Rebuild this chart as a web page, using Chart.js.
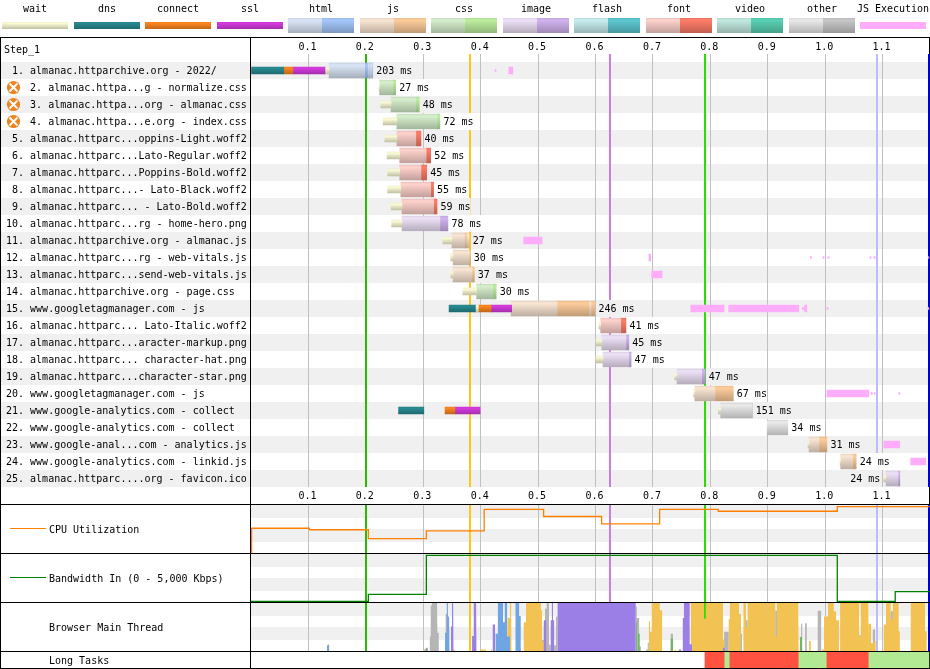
<!DOCTYPE html>
<html>
<head>
<meta charset="utf-8">
<title>Waterfall</title>
<script src="https://cdn.jsdelivr.net/npm/chart.js@4"></script>
<style>
  body { margin: 0; background: #fff; width: 930px; height: 669px; position: relative; overflow: hidden; font: 10px "DejaVu Sans Mono", monospace; color: #000; }
  canvas { position: absolute; }
  .txt { position: absolute; white-space: pre; line-height: 12px; }
  .legend-txt { position: absolute; top: 3px; width: 90px; text-align: center; line-height: 12px; }
  .swatch { position: absolute; }
  .line { position: absolute; background: #000; }
</style>
</head>
<body>
<div class="line" style="left:929px;top:37px;width:1px;height:632px"></div>

<canvas id="waterfall" width="930" height="466" style="left:0;top:38px"></canvas>
<canvas id="cpu" width="679" height="48" style="left:251px;top:505px"></canvas>
<canvas id="bandwidth" width="679" height="48" style="left:251px;top:554px"></canvas>
<canvas id="mainThread" width="679" height="48" style="left:251px;top:603px"></canvas>
<canvas id="longTasks" width="679" height="16" style="left:251px;top:652px"></canvas>

<div class="line" style="left:0;top:37px;width:930px;height:1px"></div>
<div class="line" style="left:0;top:37px;width:1px;height:632px"></div>
<div class="line" style="left:250px;top:37px;width:1px;height:632px"></div>
<div class="line" style="left:0;top:504px;width:930px;height:1px"></div>
<div class="line" style="left:0;top:553px;width:930px;height:1px"></div>
<div class="line" style="left:0;top:602px;width:930px;height:1px"></div>
<div class="line" style="left:0;top:651px;width:930px;height:1px"></div>
<div class="line" style="left:0;top:668px;width:930px;height:1px"></div>

<div class="txt" style="left:4px;top:44px">Step_1</div>
<div class="line" style="left:10px;top:528px;width:36px;height:1px;background:#ff8000"></div>
<div class="txt" style="left:49px;top:524px">CPU Utilization</div>
<div class="line" style="left:10px;top:577px;width:36px;height:1px;background:#008000"></div>
<div class="txt" style="left:49px;top:573px">Bandwidth In (0 - 5,000 Kbps)</div>
<div class="txt" style="left:49px;top:622px">Browser Main Thread</div>
<div class="txt" style="left:49px;top:655px">Long Tasks</div>

<script>
const categories = [
  '1. almanac.httparchive.org - 2022/',
  '2. almanac.httpa...g - normalize.css',
  '3. almanac.httpa...org - almanac.css',
  '4. almanac.httpa...e.org - index.css',
  '5. almanac.httparc...oppins-Light.woff2',
  '6. almanac.httparc...Lato-Regular.woff2',
  '7. almanac.httparc...Poppins-Bold.woff2',
  '8. almanac.httparc...- Lato-Black.woff2',
  '9. almanac.httparc... - Lato-Bold.woff2',
  '10. almanac.httparc...rg - home-hero.png',
  '11. almanac.httparchive.org - almanac.js',
  '12. almanac.httparc...rg - web-vitals.js',
  '13. almanac.httparc...send-web-vitals.js',
  '14. almanac.httparchive.org - page.css',
  '15. www.googletagmanager.com - js',
  '16. almanac.httparc... Lato-Italic.woff2',
  '17. almanac.httparc...aracter-markup.png',
  '18. almanac.httparc... character-hat.png',
  '19. almanac.httparc...character-star.png',
  '20. www.googletagmanager.com - js',
  '21. www.google-analytics.com - collect',
  '22. www.google-analytics.com - collect',
  '23. www.google-anal...com - analytics.js',
  '24. www.google-analytics.com - linkid.js',
  '25. almanac.httparc....org - favicon.ico'
];
const rowTypes = ['html','css','css','css','font','font','font','font','font','image','js','js','js','css','js','font','image','image','image','js','other','other','js','js','image'];
const durationsMs = [203,27,48,72,40,52,45,55,59,78,27,30,37,30,246,41,45,47,47,67,151,34,31,24,24];
const warningRows = [2,3,4];

// [row, start, end] in seconds
const waitSpans = [[1,.130,.136],[2,.223,.224],[3,.226,.244],[4,.230,.254],[5,.233,.254],[6,.237,.259],[7,.238,.259],[8,.238,.261],[9,.244,.263],[10,.245,.263],[11,.334,.350],[12,.348,.352],[13,.348,.352],[14,.369,.393],[15,.392,.396],[16,.606,.609],[17,.601,.611],[18,.601,.613],[19,.738,.742],[20,.771,.773],[21,.814,.818],[23,.970,.972],[24,1.026,1.027],[25,1.102,1.106]];
const dnsSpans = [[1,0,.057],[15,.345,.392],[21,.257,.301]];
const connectSpans = [[1,.057,.073],[15,.396,.418],[21,.338,.355]];
const sslSpans = [[1,.073,.130],[15,.418,.454],[21,.355,.399]];
const ttfbSpans = [[1,.136,.198],[1,.204,.206],[1,.208,.211],[2,.224,.247],[3,.244,.287],[4,.254,.324],[5,.254,.287],[6,.259,.305],[7,.259,.296],[8,.261,.313],[9,.263,.318],[10,.263,.329],[11,.350,.372],[11,.376,.380],[12,.352,.380],[13,.352,.385],[14,.393,.421],[15,.453,.533],[15,.590,.592],[16,.609,.644],[17,.611,.653],[18,.613,.658],[19,.742,.785],[20,.773,.808],[21,.818,.872],[22,.899,.935],[23,.972,.989],[24,1.027,1.048],[25,1.106,1.127]];
const downloadSpans = [[1,.198,.204],[1,.206,.208],[1,.211,.212],[2,.247,.252],[3,.287,.293],[4,.324,.329],[5,.287,.296],[6,.305,.313],[7,.296,.306],[8,.313,.318],[9,.318,.324],[10,.329,.343],[11,.372,.376],[12,.380,.382],[13,.385,.389],[14,.421,.427],[15,.533,.590],[15,.592,.599],[16,.644,.653],[17,.653,.658],[18,.658,.662],[19,.785,.791],[20,.808,.840],[21,.872,.873],[23,.989,1.003],[24,1.048,1.054],[25,1.127,1.130]];
const jsExecSpans = [[1,.449,.456],[11,.475,.507],[12,.693,.696],[13,.698,.716],[15,.766,.824],[15,.832,.954],[15,.964,.968],[20,1.003,1.076],[23,1.102,1.130],[24,1.149,1.175]];
const jsExecBlips = [[1,.425,.427],[12,.974,.976],[12,.996,.998],[12,1.005,1.007],[12,1.078,1.080],[12,1.085,1.087],[12,1.180,1.181],[15,.960,.964],[15,1.003,1.005],[15,1.179,1.181],[20,1.080,1.082],[20,1.085,1.087],[20,1.128,1.130]];

const eventTimes = [.200,.3812,.6251,.7906,1.0902,1.181];
const eventColors = ['#28bc00','#ffc61a','#c97ee0','#28e000','#bcbcff','#0000d0'];

const cpuTimes = [.001,.1016,.2044,.3054,.4061,.5096,.6106,.7117,.8138,1.0211,1.1817];
const cpuLoad = [0,51.6,48.4,30,46,91,76,60.6,91,87,96.5];
const bandwidthTimes = [0,.2044,.3054,1.0211,1.122,1.1817];
const bandwidthKbps = [75,75,785,4865,75,1090];

// [start, end, percent] per thread activity
const otherWork = [[.311,.313,30],[.313,.315,95],[.315,.324,100],[.324,.325,95],[.325,.327,38],[.339,.343,77],[.507,.510,23],[.510,.512,60],[.512,.515,88],[.515,.519,100],[.519,.522,13],[.528,.531,12],[.531,.534,72],[.670,.672,92],[.672,.676,69],[.676,.679,10],[.688,.691,3],[.691,.693,17],[.731,.735,36],[.789,.792,67],[.824,.832,40],[.850,.853,77],[.853,.855,36],[.862,.865,64],[.899,.900,100],[.913,.916,84],[.958,.960,57],[.965,.968,58],[.987,.993,84],[1.059,1.062,33],[1.083,1.087,45],[1.114,1.118,83]];
const scripting = [[.134,.136,14],[.301,.304,3],[.304,.308,7],[.353,.355,3],[.400,.409,3],[.413,.414,3],[.418,.420,3],[.425,.426,55],[.446,.447,85],[.447,.449,70],[.449,.451,69],[.451,.453,100],[.453,.454,62],[.468,.470,5],[.475,.479,60],[.479,.505,100],[.505,.507,85],[.507,.510,20],[.693,.695,62],[.695,.698,40],[.698,.712,100],[.712,.716,85],[.738,.740,3],[.766,.789,100],[.789,.792,67],[.792,.822,100],[.822,.824,24],[.832,.834,66],[.834,.850,100],[.850,.853,77],[.857,.858,63],[.858,.862,100],[.862,.865,50],[.865,.899,100],[.899,.900,64],[.900,.913,100],[.913,.916,30],[.916,.953,100],[.953,.954,47],[.960,.961,26],[.967,.968,16],[.972,.975,21],[.994,.998,3],[.998,1.005,72],[1.005,1.015,100],[1.015,1.019,83],[1.019,1.024,64],[1.026,1.059,100],[1.059,1.062,30],[1.062,1.075,100],[1.076,1.080,57],[1.080,1.085,16],[1.085,1.088,21],[1.102,1.106,55],[1.106,1.114,100],[1.114,1.118,66],[1.118,1.128,100],[1.128,1.130,41],[1.149,1.174,100],[1.174,1.177,41]];
const layout = [[.348,.350,51],[.350,.352,100],[.352,.353,51],[.385,.388,31],[.388,.392,100],[.392,.393,33],[.421,.425,55],[.510,.514,64],[.522,.524,64],[.524,.526,100],[.526,.528,64],[.534,.670,100],[.745,.749,3],[.752,.754,69],[.754,.764,100],[.764,.768,14],[.822,.825,7],[.956,.960,12]];
const parsing = [[.132,.136,12],[.304,.308,5],[.338,.341,38],[.341,.343,100],[.343,.345,72],[.345,.346,16],[.426,.430,36],[.430,.439,100],[.439,.442,60],[.442,.446,100],[.446,.451,30],[.460,.461,76],[.461,.467,100],[.467,.470,73]];
const painting = [[.670,.672,60],[.674,.677,36],[.731,.735,26],[.824,.825,14],[.956,.960,29]];

const longTaskBlocking = [[.7906,.824],[.834,.953],[1.003,1.075]];
const longTaskFree = [[.824,.834],[.953,1.003],[1.075,1.181]];

const legendNames = ['wait','dns','connect','ssl','html','js','css','image','flash','font','video','other','JS Execution'];

const xMax = 1.1817;
const bandColor = '#f0f0f0';
const gridColor = '#c0c0c0';

// top of the bar colour, bottom gets darkened
const phaseColors = { wait:[254,254,216], dns:[40,140,146], connect:[255,135,30], ssl:[215,60,225], 'JS Execution':[255,172,250] };
const typeColors = {
  html:  {light:[218,230,248], dark:[165,200,252]},
  js:    {light:[250,230,212], dark:[254,205,155]},
  css:   {light:[215,240,205], dark:[190,240,160]},
  image: {light:[238,226,248], dark:[210,180,240]},
  flash: {light:[200,238,240], dark:[95,200,210]},
  font:  {light:[255,210,205], dark:[255,125,105]},
  video: {light:[195,235,225], dark:[90,210,180]},
  other: {light:[235,235,235], dark:[200,200,200]}
};

function rgb(c, f) {
  return 'rgb(' + c.map(v => Math.round(v * f)).join(',') + ')';
}

function barGradient(chart, row, c, h) {
  const yScale = chart.scales.y;
  if (!chart.chartArea || !yScale) return rgb(c, 1);
  const mid = yScale.getPixelForValue(row);
  const g = chart.ctx.createLinearGradient(0, mid - h / 2, 0, mid + h / 2);
  g.addColorStop(0, rgb(c, .92));
  g.addColorStop(.14, rgb(c, 1));
  g.addColorStop(1, rgb(c, .76));
  return g;
}

function toBars(spans) {
  return spans.map(s => ({ x: [s[1], s[2]], y: categories[s[0] - 1] }));
}

function thinSet(label, spans, c) {
  return {
    label, data: toBars(spans), barThickness: 7,
    backgroundColor: ctx => ctx.raw ? barGradient(ctx.chart, categories.indexOf(ctx.raw.y), c, 7) : rgb(c, 1)
  };
}

function thickSet(label, spans, shade) {
  return {
    label, data: toBars(spans), barThickness: 15,
    backgroundColor: ctx => {
      if (!ctx.raw) return '#ccc';
      const row = categories.indexOf(ctx.raw.y);
      return barGradient(ctx.chart, row, typeColors[rowTypes[row]][shade], 15);
    }
  };
}

// legend up top
legendNames.forEach((name, i) => {
  const left = Math.round(2 + i * 71.5);
  const c = typeColors[name];
  const thin = phaseColors[name];
  const sw = document.createElement('div');
  sw.className = 'swatch';
  sw.style.cssText = 'left:' + left + 'px;width:66px;top:' + (thin ? 22 : 18) + 'px;height:' + (thin ? 7 : 15) + 'px;';
  const grad = col => 'linear-gradient(' + rgb(col, .92) + ',' + rgb(col, 1) + ' 14%,' + rgb(col, .76) + ')';
  if (name === 'JS Execution') sw.style.background = rgb(thin, 1);
  else if (thin) sw.style.background = grad(thin);
  else sw.style.background = grad(c.dark) + ' 34px 0/32px 100% no-repeat,' + grad(c.light) + ' 0 0/34px 100% no-repeat';
  document.body.appendChild(sw);
  const t = document.createElement('div');
  t.className = 'legend-txt';
  t.style.left = (left + 33 - 45) + 'px';
  t.textContent = name;
  document.body.appendChild(t);
});

const eventLines = extra => ({
  id: 'eventLines',
  beforeDatasetsDraw(chart) {
    const { ctx, chartArea: a, scales: { x } } = chart;
    eventTimes.forEach((t, i) => {
      ctx.fillStyle = eventColors[i];
      ctx.fillRect(Math.round(x.getPixelForValue(t)) - 1, a.top - extra, 2, a.bottom - a.top + extra);
    });
  }
});

const rowBands = {
  id: 'rowBands',
  beforeDraw(chart) {
    const { ctx, chartArea: a, scales: { y } } = chart;
    ctx.fillStyle = bandColor;
    categories.forEach((c, i) => {
      if (i % 2 == 0) {
        const mid = y.getPixelForValue(i);
        ctx.fillRect(1, mid - 8.5, a.right, 17);
      }
    });
  }
};

const panelBands = {
  id: 'panelBands',
  beforeDraw(chart) {
    const { ctx, chartArea: a } = chart;
    const q = (a.bottom - a.top) / 4;
    ctx.fillStyle = bandColor;
    ctx.fillRect(a.left, a.top, a.right - a.left, q + 1);
    ctx.fillRect(a.left, a.top + 2 * q, a.right - a.left, q + 1);
  }
};

// duration text next to each request, and the warning marks
const rowNotes = {
  id: 'rowNotes',
  afterDatasetsDraw(chart) {
    const { ctx, chartArea: a, scales: { x, y } } = chart;
    ctx.save();
    ctx.font = '10px "DejaVu Sans Mono"';
    ctx.textBaseline = 'middle';
    ctx.textAlign = 'left';
    durationsMs.forEach((ms, i) => {
      const row = i + 1;
      const ends = ttfbSpans.concat(downloadSpans).filter(s => s[0] == row).map(s => s[2]);
      const mid = y.getPixelForValue(i);
      const text = ms + ' ms';
      const w = ctx.measureText(text).width;
      let tx = x.getPixelForValue(Math.max(...ends)) + 3.5;
      if (tx + w > a.right) {
        const wait = waitSpans.find(s => s[0] == row);
        tx = x.getPixelForValue(wait[1]) - 3.5 - w;
      }
      ctx.fillStyle = i % 2 == 0 ? bandColor : '#fff';
      ctx.fillRect(tx, mid - 8.5, w, 17);
      ctx.fillStyle = '#000';
      ctx.fillText(text, tx, mid + .5);
    });
    warningRows.forEach(row => {
      const mid = y.getPixelForValue(row - 1);
      ctx.fillStyle = '#f0821e';
      ctx.beginPath();
      ctx.arc(13.5, mid, 6.6, 0, Math.PI * 2);
      ctx.fill();
      ctx.strokeStyle = '#fff';
      ctx.lineWidth = 2;
      ctx.beginPath();
      ctx.moveTo(9.5, mid - 4);
      ctx.lineTo(17.5, mid + 4);
      ctx.moveTo(17.5, mid - 4);
      ctx.lineTo(9.5, mid + 4);
      ctx.stroke();
    });
    ctx.restore();
  }
};

const monoFont = { family: '"DejaVu Sans Mono"', size: 10 };
const tickLabel = v => (v == 0 ? '' : v.toFixed(1));
const hideZero = c => (c.tick && c.tick.value == 0 ? 'rgba(0,0,0,0)' : gridColor);

// rows 2-4 make room for the warning mark, one digit numbers line up with two digit ones
function rowIndent(i) {
  if (warningRows.includes(i + 1)) return '    ';
  return i < 9 ? ' ' : '';
}

new Chart(document.getElementById('waterfall'), {
  type: 'bar',
  data: {
    labels: categories,
    datasets: [
      thinSet('wait', waitSpans, phaseColors.wait),
      thinSet('dns', dnsSpans, phaseColors.dns),
      thinSet('connect', connectSpans, phaseColors.connect),
      thinSet('ssl', sslSpans, phaseColors.ssl),
      thickSet('ttfb', ttfbSpans, 'light'),
      thickSet('download', downloadSpans, 'dark'),
      { label: 'JS Execution', data: toBars(jsExecSpans), barThickness: 7, backgroundColor: rgb(phaseColors['JS Execution'], 1) },
      { label: 'JS Execution', data: toBars(jsExecBlips), barThickness: 2, backgroundColor: rgb(phaseColors['JS Execution'], 1) }
    ]
  },
  options: {
    indexAxis: 'y',
    responsive: false,
    animation: false,
    grouped: false,
    layout: { padding: { left: 6, right: .5, top: 0, bottom: 0 } },
    plugins: { legend: { display: false }, tooltip: { enabled: false } },
    scales: {
      x: {
        type: 'linear', position: 'top', min: 0, max: xMax,
        border: { display: false },
        grid: { color: hideZero, tickColor: hideZero, tickLength: 8 },
        ticks: { stepSize: .1, includeBounds: false, autoSkip: false, maxRotation: 0, padding: 1, labelOffset: -1, color: '#000', font: monoFont, callback: tickLabel },
        afterFit(s) { s.height = 24; }
      },
      x2: {
        type: 'linear', axis: 'x', position: 'bottom', min: 0, max: xMax,
        border: { display: false },
        grid: { display: false, drawTicks: false },
        ticks: { stepSize: .1, includeBounds: false, autoSkip: false, maxRotation: 0, padding: 3, labelOffset: -1, color: '#000', font: monoFont, callback: tickLabel },
        afterFit(s) { s.height = 17; }
      },
      y: {
        type: 'category', offset: true,
        border: { display: false },
        grid: { display: false },
        ticks: {
          autoSkip: false, crossAlign: 'far', labelOffset: .5, color: '#000', font: monoFont,
          callback(v, i) { return rowIndent(i) + categories[i]; }
        },
        afterFit(s) { s.width = 245; }
      }
    }
  },
  plugins: [rowBands, eventLines(8), rowNotes]
});

function panelOptions(yMax, showGrid) {
  return {
    responsive: false,
    animation: false,
    layout: { padding: { left: 0, right: .5, top: 0, bottom: 0 } },
    plugins: { legend: { display: false }, tooltip: { enabled: false } },
    elements: { point: { radius: 0 } },
    scales: {
      x: {
        type: 'linear', min: 0, max: xMax,
        border: { display: false },
        grid: { display: showGrid, color: hideZero, drawTicks: false },
        ticks: { display: false, stepSize: .1, includeBounds: false, autoSkip: false }
      },
      y: { display: false, min: 0, max: yMax }
    }
  };
}

function zipPoints(xs, ys) {
  return xs.map((t, i) => ({ x: t, y: ys[i] }));
}

new Chart(document.getElementById('cpu'), {
  type: 'line',
  data: { datasets: [{ data: zipPoints(cpuTimes, cpuLoad), stepped: 'after', clip: false, borderColor: '#ff8000', borderWidth: 1.3 }] },
  options: panelOptions(100, true),
  plugins: [panelBands, eventLines(0)]
});

new Chart(document.getElementById('bandwidth'), {
  type: 'line',
  data: { datasets: [{ data: zipPoints(bandwidthTimes, bandwidthKbps), stepped: 'after', clip: false, borderColor: '#008000', borderWidth: 1.3 }] },
  options: panelOptions(5000, true),
  plugins: [panelBands, eventLines(0)]
});

// adjacent spans share an edge, only go down to the floor when there is a real gap
function activityPoints(spans) {
  const pts = [];
  spans.forEach((s, i) => {
    if (i == 0 || spans[i - 1][1] != s[0]) pts.push({ x: s[0], y: 0 });
    pts.push({ x: s[0], y: s[2] }, { x: s[1], y: s[2] });
    if (i == spans.length - 1 || spans[i + 1][0] != s[1]) pts.push({ x: s[1], y: 0 });
  });
  return pts;
}

function activitySet(spans, color, order) {
  return { data: activityPoints(spans), order, borderWidth: 0, borderColor: color, backgroundColor: color, fill: 'origin', tension: 0 };
}

new Chart(document.getElementById('mainThread'), {
  type: 'line',
  data: {
    datasets: [
      activitySet(otherWork, '#b5b5b5', 5),
      activitySet(scripting, '#f2c352', 4),
      activitySet(layout, '#9b7fe6', 3),
      activitySet(parsing, '#70a5e3', 2),
      activitySet(painting, '#6fb765', 1)
    ]
  },
  options: panelOptions(100, true),
  plugins: [panelBands, eventLines(0)]
});

const longOpts = panelOptions(1, false);
longOpts.indexAxis = 'y';
longOpts.grouped = false;
longOpts.scales.y = { display: false, type: 'category', offset: true };

new Chart(document.getElementById('longTasks'), {
  type: 'bar',
  data: {
    labels: ['Long Tasks'],
    datasets: [
      { data: longTaskBlocking.map(s => ({ x: s, y: 'Long Tasks' })), backgroundColor: '#ff5240', barPercentage: 1, categoryPercentage: 1 },
      { data: longTaskFree.map(s => ({ x: s, y: 'Long Tasks' })), backgroundColor: '#b2ea94', barPercentage: 1, categoryPercentage: 1 }
    ]
  },
  options: longOpts
});
</script>
</body>
</html>
